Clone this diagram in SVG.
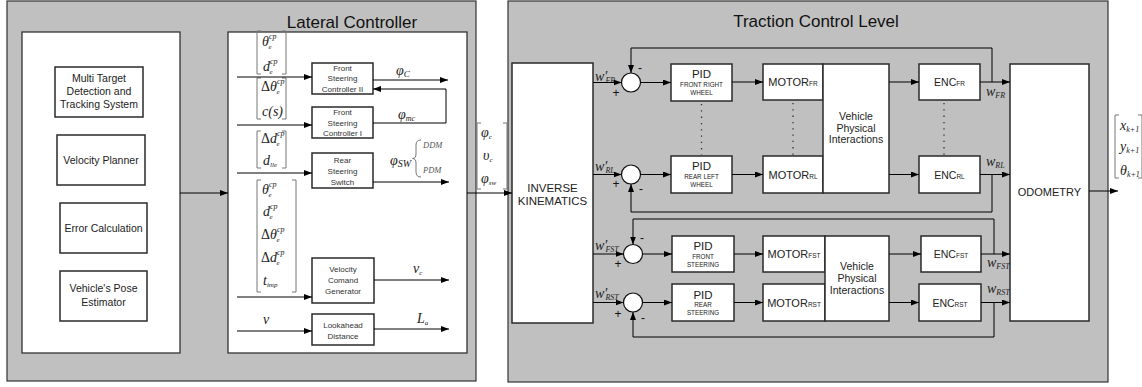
<svg xmlns="http://www.w3.org/2000/svg" width="1142" height="387" viewBox="0 0 1142 387">
<defs>
<marker id="ah" markerWidth="8" markerHeight="6" refX="8" refY="3" orient="auto" markerUnits="userSpaceOnUse"><path d="M0,0 L8,3 L0,6 z" fill="#000"/></marker>
<style>
.panel{fill:#c0c0c0;stroke:#333;stroke-width:1.2}
.wbox{fill:#fff;stroke:#333;stroke-width:1.3}
.box{fill:#fff;stroke:#2a2a2a;stroke-width:1.5}
.sum{fill:#fff;stroke:#111;stroke-width:1.2}
.ln{stroke:#000;stroke-width:1;fill:none}
.dot{stroke:#333;stroke-width:1.3;stroke-dasharray:1.3 5;fill:none}
.br{fill:none;stroke:#777;stroke-width:1}
.t{font-family:"Liberation Sans",Arial,sans-serif;fill:#222;text-anchor:middle}
.title{font-family:"Liberation Sans",Arial,sans-serif;fill:#111;text-anchor:middle;font-size:17px}
.s10{font-size:10.5px}
.s8{font-size:8px;fill:#333}
.m{font-family:"Liberation Serif","Times New Roman",serif;font-style:italic;fill:#222;font-size:14px}
.ms{font-family:"Liberation Serif","Times New Roman",serif;font-style:italic;fill:#555;font-size:8.5px}
.sp{font-size:8px}
.sb{font-size:7px}
.sk{font-size:8px}
.sg{font-family:"Liberation Sans",Arial,sans-serif;fill:#111;font-size:12px;text-anchor:middle}
</style>
</defs>
<rect width="1142" height="387" fill="#fff"/>

<g id="lateral-controller-panel">
<rect class="panel" x="7" y="1" width="469" height="380"/>
<text class="title" x="352" y="28">Lateral Controller</text>
</g>
<g id="traction-control-panel">
<rect class="panel" x="508" y="1" width="600" height="381"/>
<text class="title" x="816" y="27">Traction Control Level</text>
</g>

<g id="planning-block"><rect class="wbox" x="22" y="32" width="158" height="321"/></g>
<g id="multi-target"><rect class="box" x="55" y="67" width="88" height="50"/>
<text class="t s10" x="99" y="82">Multi Target</text><text class="t s10" x="99" y="95">Detection and</text><text class="t s10" x="99" y="108">Tracking System</text></g>
<g id="velocity-planner"><rect class="box" x="57" y="135" width="88" height="50"/>
<text class="t s10" x="101" y="164">Velocity Planner</text></g>
<g id="error-calculation"><rect class="box" x="60" y="203" width="87" height="50"/>
<text class="t s10" x="103.5" y="232">Error Calculation</text></g>
<g id="pose-estimator"><rect class="box" x="60" y="271" width="87" height="50"/>
<text class="t s10" x="103.5" y="292">Vehicle's Pose</text><text class="t s10" x="103.5" y="306">Estimator</text></g>

<g id="lateral-block"><rect class="wbox" x="228" y="32" width="239" height="321"/></g>
<g id="fsc2"><rect class="box" x="312" y="63" width="61" height="31"/>
<text class="t s8" x="342.5" y="70.5">Front</text><text class="t s8" x="342.5" y="81">Steering</text><text class="t s8" x="342.5" y="92">Controller II</text></g>
<g id="fsc1"><rect class="box" x="312" y="107" width="61" height="31"/>
<text class="t s8" x="342.5" y="115">Front</text><text class="t s8" x="342.5" y="125.5">Steering</text><text class="t s8" x="342.5" y="136">Controller I</text></g>
<g id="rear-switch"><rect class="box" x="312" y="153" width="61" height="35"/>
<text class="t s8" x="342.5" y="163">Rear</text><text class="t s8" x="342.5" y="174">Steering</text><text class="t s8" x="342.5" y="185">Switch</text></g>
<g id="velocity-cmd"><rect class="box" x="312" y="258" width="62" height="45"/>
<text class="t s8" x="343" y="272">Velocity</text><text class="t s8" x="343" y="283">Comand</text><text class="t s8" x="343" y="294">Generator</text></g>
<g id="lookahead"><rect class="box" x="312" y="314" width="62" height="31"/>
<text class="t s8" x="343" y="328">Lookahead</text><text class="t s8" x="343" y="339">Distance</text></g>

<g id="lateral-math">
<path class="br" d="M261,31 H257 V74 H261 M282,31 H286 V74 H282"/>
<text class="m" x="262" y="46">θ<tspan class="sp" dy="-7">cp</tspan><tspan class="sb" dx="-8" dy="10">e</tspan></text>
<text class="m" x="263" y="71">d<tspan class="sp" dy="-7">cp</tspan><tspan class="sb" dx="-8" dy="10">e</tspan></text>
<path class="br" d="M261,78 H257 V119 H261 M282,78 H286 V119 H282"/>
<text class="m" x="261" y="91"><tspan font-style="normal">Δ</tspan>θ<tspan class="sp" dy="-7">cp</tspan><tspan class="sb" dx="-8" dy="10">e</tspan></text>
<text class="m" x="262" y="116">c(s)</text>
<path class="br" d="M261,131 H257 V168 H261 M282,131 H286 V168 H282"/>
<text class="m" x="261" y="143"><tspan font-style="normal">Δ</tspan>d<tspan class="sp" dy="-7">cp</tspan><tspan class="sb" dx="-8" dy="10">e</tspan></text>
<text class="m" x="263" y="165">d<tspan class="sb" dy="2">lle</tspan></text>
<path class="br" d="M261,180 H257 V292 H261 M292,180 H296 V292 H292"/>
<text class="m" x="262" y="194">θ<tspan class="sp" dy="-7">cp</tspan><tspan class="sb" dx="-8" dy="10">e</tspan></text>
<text class="m" x="263" y="216">d<tspan class="sp" dy="-7">cp</tspan><tspan class="sb" dx="-8" dy="10">e</tspan></text>
<text class="m" x="261" y="239"><tspan font-style="normal">Δ</tspan>θ<tspan class="sp" dy="-7">cp</tspan><tspan class="sb" dx="-8" dy="10">e</tspan></text>
<text class="m" x="261" y="262"><tspan font-style="normal">Δ</tspan>d<tspan class="sp" dy="-7">cp</tspan><tspan class="sb" dx="-8" dy="10">e</tspan></text>
<text class="m" x="263" y="285">t<tspan class="sb" dy="2">imp</tspan></text>
<text class="m" x="263" y="324">v</text>
<text class="m" x="396" y="75">φ<tspan font-size="9" dy="2">C</tspan></text>
<text class="m" x="398" y="119">φ<tspan font-size="8" dy="2">mc</tspan></text>
<text class="m" x="390" y="165">φ<tspan font-size="10" dy="2">SW</tspan></text>
<path class="br" d="M421,140 Q416,140 416,145 V154 Q416,158.5 412.5,158.5 Q416,158.5 416,163 V172 Q416,177 421,177"/>
<text class="ms" x="423" y="148">DDM</text>
<text class="ms" x="423" y="173">PDM</text>
<text class="m" x="413" y="273">v<tspan class="sb" dy="2">c</tspan></text>
<text class="m" x="417" y="323">L<tspan class="sb" dy="2">a</tspan></text>
</g>

<g id="lateral-output-vector">
<path class="br" d="M481,123 H477 V189 H481 M503,123 H507 V189 H503"/>
<text class="m" x="481" y="137">φ<tspan class="sb" dy="2">c</tspan></text>
<text class="m" x="483" y="160">υ<tspan class="sb" dy="2">c</tspan></text>
<text class="m" x="481" y="183">φ<tspan class="sb" dy="2">sw</tspan></text>
</g>

<g id="inverse-kinematics"><rect class="box" x="512" y="63" width="81" height="260"/>
<text class="t" font-size="11.5" x="552.5" y="192">INVERSE</text><text class="t" font-size="11.5" x="552.5" y="205">KINEMATICS</text></g>

<g id="sum-fr"><circle class="sum" cx="631" cy="82.5" r="9.5"/></g>
<g id="sum-rl"><circle class="sum" cx="631" cy="174.5" r="9.5"/></g>
<g id="sum-fst"><circle class="sum" cx="633" cy="254" r="9.5"/></g>
<g id="sum-rst"><circle class="sum" cx="633" cy="302.5" r="9.5"/></g>

<g id="pid-fr"><rect class="box" x="671" y="64" width="61" height="37"/>
<text class="t" font-size="11.5" x="701.5" y="78">PID</text><text class="t" font-size="6.3" x="701.5" y="87">FRONT RIGHT</text><text class="t" font-size="6.3" x="701.5" y="95">WHEEL</text></g>
<g id="pid-rl"><rect class="box" x="671" y="156" width="61" height="37"/>
<text class="t" font-size="11.5" x="701.5" y="170">PID</text><text class="t" font-size="6.3" x="701.5" y="179">REAR LEFT</text><text class="t" font-size="6.3" x="701.5" y="187">WHEEL</text></g>
<g id="pid-fst"><rect class="box" x="672" y="236" width="62" height="36"/>
<text class="t" font-size="11.5" x="703" y="250">PID</text><text class="t" font-size="6.3" x="703" y="259">FRONT</text><text class="t" font-size="6.3" x="703" y="267">STEERING</text></g>
<g id="pid-rst"><rect class="box" x="672" y="284" width="62" height="37"/>
<text class="t" font-size="11.5" x="703" y="299">PID</text><text class="t" font-size="6.3" x="703" y="307">REAR</text><text class="t" font-size="6.3" x="703" y="315">STEERING</text></g>

<g id="motor-fr"><rect class="box" x="763" y="64" width="60" height="36"/>
<text class="t" font-size="11" x="793" y="86">MOTOR<tspan font-size="6.5">FR</tspan></text></g>
<g id="motor-rl"><rect class="box" x="763" y="156" width="60" height="37"/>
<text class="t" font-size="11" x="793" y="178.5">MOTOR<tspan font-size="6.5">RL</tspan></text></g>
<g id="motor-fst"><rect class="box" x="763" y="236" width="62" height="36"/>
<text class="t" font-size="11" x="794" y="258">MOTOR<tspan font-size="6.5">FST</tspan></text></g>
<g id="motor-rst"><rect class="box" x="763" y="284" width="62" height="37"/>
<text class="t" font-size="11" x="794" y="306.5">MOTOR<tspan font-size="6.5">RST</tspan></text></g>

<g id="vpi-wheels"><rect class="box" x="823" y="64" width="66" height="129"/>
<text class="t s10" x="856" y="120">Vehicle</text><text class="t s10" x="856" y="132">Physical</text><text class="t s10" x="856" y="143">Interactions</text></g>
<g id="vpi-steering"><rect class="box" x="825" y="236" width="64" height="85"/>
<text class="t s10" x="857" y="270">Vehicle</text><text class="t s10" x="857" y="282">Physical</text><text class="t s10" x="857" y="294">Interactions</text></g>

<g id="enc-fr"><rect class="box" x="919" y="64" width="61" height="36"/>
<text class="t" font-size="10.5" x="949.5" y="86">ENC<tspan font-size="6.5">FR</tspan></text></g>
<g id="enc-rl"><rect class="box" x="919" y="156" width="61" height="37"/>
<text class="t" font-size="10.5" x="949.5" y="178.5">ENC<tspan font-size="6.5">RL</tspan></text></g>
<g id="enc-fst"><rect class="box" x="921" y="236" width="60" height="36"/>
<text class="t" font-size="10.5" x="951" y="258">ENC<tspan font-size="6.5">FST</tspan></text></g>
<g id="enc-rst"><rect class="box" x="919" y="284" width="62" height="37"/>
<text class="t" font-size="10.5" x="950" y="306.5">ENC<tspan font-size="6.5">RST</tspan></text></g>

<g id="odometry"><rect class="box" x="1010" y="64" width="79" height="257"/>
<text class="t" font-size="11" x="1049.5" y="196">ODOMETRY</text></g>

<g id="pose-output-vector">
<path class="br" d="M1119,115 H1115 V178 H1119 M1138,115 H1142 V178 H1138"/>
<text class="m" x="1120" y="130">x<tspan class="sk" dy="2">k+1</tspan></text>
<text class="m" x="1120" y="151">y<tspan class="sk" dy="2">k+1</tspan></text>
<text class="m" x="1120" y="175">θ<tspan class="sk" dy="2">k+1</tspan></text>
</g>

<g id="traction-labels">
<text class="m" x="595" y="81">w′<tspan class="sp" dx="-2" dy="2">FR</tspan></text>
<text class="m" x="595" y="171">w′<tspan class="sp" dx="-2" dy="2">RL</tspan></text>
<text class="m" x="595" y="250">w′<tspan class="sp" dx="-2" dy="2">FST</tspan></text>
<text class="m" x="595" y="298">w′<tspan class="sp" dx="-2" dy="2">RST</tspan></text>
<text class="sg" x="616" y="96.5">+</text><text class="sg" x="640" y="71.5">-</text>
<text class="sg" x="616" y="187.5">+</text><text class="sg" x="641" y="192.5">-</text>
<text class="sg" x="642" y="241.5">-</text><text class="sg" x="618" y="267.5">+</text>
<text class="sg" x="618" y="317.5">+</text><text class="sg" x="643" y="321.5">-</text>
<text class="m" x="986" y="96">w<tspan class="sp" dy="2">FR</tspan></text>
<text class="m" x="986" y="166">w<tspan class="sp" dy="2">RL</tspan></text>
<text class="m" x="987" y="267">w<tspan class="sp" dy="2">FST</tspan></text>
<text class="m" x="987" y="293">w<tspan class="sp" dy="2">RST</tspan></text>
</g>

<g id="connectors" class="ln">
<line x1="180" y1="193" x2="228" y2="193" marker-end="url(#ah)"/>
<line x1="237" y1="77" x2="312" y2="77" marker-end="url(#ah)"/>
<line x1="237" y1="125" x2="312" y2="125" marker-end="url(#ah)"/>
<line x1="237" y1="173" x2="312" y2="173" marker-end="url(#ah)"/>
<line x1="237" y1="297" x2="312" y2="297" marker-end="url(#ah)"/>
<line x1="237" y1="331" x2="312" y2="331" marker-end="url(#ah)"/>
<line x1="373" y1="80" x2="448" y2="80" marker-end="url(#ah)"/>
<path d="M373,123 H446 V89 H373" marker-end="url(#ah)"/>
<line x1="373" y1="182" x2="449" y2="182" marker-end="url(#ah)"/>
<line x1="374" y1="280" x2="449" y2="280" marker-end="url(#ah)"/>
<line x1="374" y1="329" x2="449" y2="329" marker-end="url(#ah)"/>
<line x1="467" y1="193" x2="512" y2="193" marker-end="url(#ah)"/>
<line x1="593" y1="82.5" x2="621.5" y2="82.5" marker-end="url(#ah)"/>
<line x1="593" y1="174.5" x2="621.5" y2="174.5" marker-end="url(#ah)"/>
<line x1="593" y1="254" x2="623.5" y2="254" marker-end="url(#ah)"/>
<line x1="593" y1="302.5" x2="623.5" y2="302.5" marker-end="url(#ah)"/>
<line x1="640.5" y1="82.5" x2="671" y2="82.5" marker-end="url(#ah)"/>
<line x1="640.5" y1="174.5" x2="671" y2="174.5" marker-end="url(#ah)"/>
<line x1="642.5" y1="254" x2="672" y2="254" marker-end="url(#ah)"/>
<line x1="642.5" y1="302.5" x2="672" y2="302.5" marker-end="url(#ah)"/>
<line x1="732" y1="82" x2="763" y2="82" marker-end="url(#ah)"/>
<line x1="732" y1="174.5" x2="763" y2="174.5" marker-end="url(#ah)"/>
<line x1="734" y1="254" x2="763" y2="254" marker-end="url(#ah)"/>
<line x1="734" y1="302.5" x2="763" y2="302.5" marker-end="url(#ah)"/>
<line x1="889" y1="82" x2="919" y2="82" marker-end="url(#ah)"/>
<line x1="889" y1="174.5" x2="919" y2="174.5" marker-end="url(#ah)"/>
<line x1="889" y1="254" x2="921" y2="254" marker-end="url(#ah)"/>
<line x1="889" y1="302.5" x2="919" y2="302.5" marker-end="url(#ah)"/>
<line x1="980" y1="82" x2="1010" y2="82" marker-end="url(#ah)"/>
<line x1="980" y1="174.5" x2="1010" y2="174.5" marker-end="url(#ah)"/>
<line x1="981" y1="254" x2="1010" y2="254" marker-end="url(#ah)"/>
<line x1="981" y1="302.5" x2="1010" y2="302.5" marker-end="url(#ah)"/>
<path d="M992,82 V48 H631 V73" marker-end="url(#ah)"/>
<path d="M992,174.5 V212 H631 V184" marker-end="url(#ah)"/>
<path d="M994,254 V219 H633 V244.5" marker-end="url(#ah)"/>
<path d="M994,302.5 V337 H633 V312" marker-end="url(#ah)"/>
<line x1="1089" y1="191" x2="1118" y2="191" marker-end="url(#ah)"/>
<line class="dot" x1="701.5" y1="104" x2="701.5" y2="155"/>
<line class="dot" x1="793" y1="103" x2="793" y2="155"/>
<line class="dot" x1="944" y1="103" x2="944" y2="155"/>
</g>
</svg>
